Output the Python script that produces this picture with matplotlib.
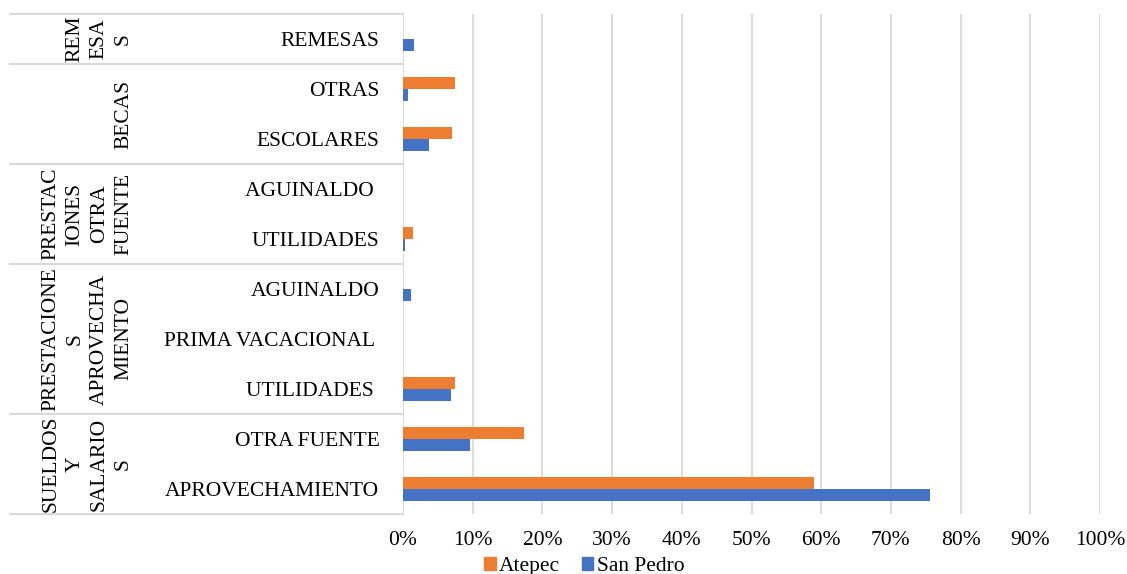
import matplotlib.pyplot as plt
import matplotlib.transforms as mtransforms
from matplotlib.patches import Patch

plt.rcParams['font.family'] = ['Liberation Serif', 'DejaVu Serif']

# Categories from bottom to top (trailing spaces kept as in the source chart)
categories = ['APROVECHAMIENTO', 'OTRA FUENTE',
              'UTILIDADES ', 'PRIMA VACACIONAL ', 'AGUINALDO',
              'UTILIDADES', 'AGUINALDO ',
              'ESCOLARES', 'OTRAS',
              'REMESAS']
atepec = [58.9, 17.4, 7.5, 0.0, 0.0, 1.5, 0.0, 7.0, 7.5, 0.0]
san_pedro = [75.6, 9.6, 6.9, 0.0, 1.1, 0.3, 0.0, 3.7, 0.7, 1.6]

# Groups: (label, first category index, last category index)
groups = [('SUELDOS\nY\nSALARIO\nS', 0, 1),
          ('PRESTACIONE\nS\nAPROVECHA\nMIENTO', 2, 4),
          ('PRESTAC\nIONES\nOTRA\nFUENTE', 5, 6),
          ('BECAS', 7, 8),
          ('REM\nESA\nS', 9, 9)]

orange = '#ED7D31'
blue = '#4472C4'
grid_color = '#d9d9d9'
fs = 15.5

W, H = 1127, 574
fig = plt.figure(figsize=(W / 100, H / 100), dpi=100)
ax = fig.add_axes([403 / W, (H - 514) / H, (1100 - 403) / W, 500 / H])

y = list(range(len(categories)))
bh = 0.235
ax.barh([v + bh / 2 for v in y], atepec, height=bh, color=orange, label='Atepec')
ax.barh([v - bh / 2 for v in y], san_pedro, height=bh, color=blue, label='San Pedro')

ax.set_xlim(0, 100)
ax.set_ylim(-0.5, len(categories) - 0.5)
ax.set_xticks(range(0, 101, 10))
ax.set_xticklabels([f'{v}%' for v in range(0, 101, 10)], fontsize=fs)
ax.set_yticks(y)
ax.set_yticklabels(categories, fontsize=fs)
ax.tick_params(axis='y', length=0, pad=17)
ax.tick_params(axis='x', length=0, pad=12)
ax.xaxis.grid(True, color=grid_color, linewidth=1.3)
ax.set_axisbelow(True)
for s in ['top', 'right', 'bottom', 'left']:
    ax.spines[s].set_visible(False)

# Multi-level category axis: separators and group labels
trans = mtransforms.blended_transform_factory(ax.transAxes, ax.transData)
x_left = (10 - 403) / (1100 - 403)
bounds = sorted(set([g[1] - 0.5 for g in groups] + [g[2] + 0.5 for g in groups]))
for b in bounds:
    ax.plot([x_left, 0], [b, b], transform=trans, color=grid_color,
            linewidth=1.5, clip_on=False)

x_grp = (133 - 403) / (1100 - 403)
for label, lo, hi in groups:
    ax.text(x_grp, (lo + hi) / 2, label, transform=trans, rotation=90,
            ha='right', va='center', multialignment='center', fontsize=fs,
            linespacing=1.37)

handles = [Patch(color=orange, label='Atepec'), Patch(color=blue, label='San Pedro')]
fig.legend(handles=handles, loc='lower center', bbox_to_anchor=(584 / W, -0.037),
           ncol=2, frameon=False, fontsize=fs, handlelength=0.55, handleheight=0.55,
           handletextpad=0.15, columnspacing=1.0)

fig.savefig('out.png', dpi=100)
